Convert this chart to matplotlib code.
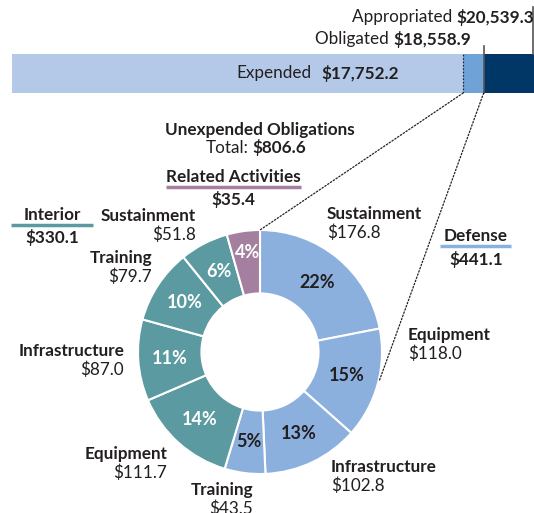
import matplotlib.pyplot as plt
from matplotlib.patches import ConnectionPatch

plt.rcParams['font.family'] = ['Lato', 'DejaVu Sans']

# totals (millions)
appropriated = 20539.3
obligated = 18558.9
expended = 17752.2
unexpended_total = 806.6

# unexpended obligations, clockwise from 12 o'clock
slice_names = ['Sustainment', 'Equipment', 'Infrastructure', 'Training',
               'Equipment', 'Infrastructure', 'Training', 'Sustainment',
               'Related Activities']
slice_values = [176.8, 118.0, 102.8, 43.5, 111.7, 87.0, 79.7, 51.8, 35.4]
slice_groups = ['Defense'] * 4 + ['Interior'] * 4 + ['Related']
group_totals = {'Defense': 441.1, 'Interior': 330.1, 'Related': 35.4}

colors = {'Defense': '#8cb0de', 'Interior': '#5b9aa0', 'Related': '#a57f9f'}
pct_colors = {'Defense': '#231f20', 'Interior': 'white', 'Related': 'white'}
dark = '#231f20'
fs = 12.3
W, H = 534, 513

fig = plt.figure(figsize=(W / 100, H / 100), dpi=100)

# overlay for text, pixel coords
ax_t = fig.add_axes([0, 0, 1, 1])
ax_t.set_xlim(0, W)
ax_t.set_ylim(H, 0)
ax_t.axis('off')
ax_t.set_zorder(10)

# bar
ax_b = fig.add_axes([12 / W, (H - 93) / H, (W - 12) / W, 39 / H])
ax_b.barh(0, expended, color='#b4c9e8', height=1)
ax_b.barh(0, obligated - expended, left=expended, color='#6fa2d6', height=1)
ax_b.barh(0, appropriated - obligated, left=obligated, color='#003767', height=1)
ax_b.set_xlim(0, appropriated)
ax_b.set_ylim(-0.5, 0.5)
ax_b.axis('off')
tr = ax_b.get_xaxis_transform()
ax_b.plot([appropriated - 40] * 2, [1, 1 + 47 / 39], color='#555555', lw=1.2,
          transform=tr, clip_on=False)
ax_b.plot([obligated] * 2, [0, 1 + 8 / 39], color='#555555', lw=1.2,
          transform=tr, clip_on=False)
ax_b.plot([expended] * 2, [0, 1], color=dark, lw=0.9,
          linestyle=(0, (1.2, 1.5)), transform=tr)


def two_part(x, y, normal, bold, gap=' '):
    b = ax_t.text(x, y, bold, ha='right', va='center', fontsize=fs,
                  fontweight='bold', color=dark)
    ax_t.annotate(normal + gap, xy=(0, 0.5), xycoords=b, ha='right',
                  va='center', fontsize=fs, color=dark)


two_part(534, 17, 'Appropriated', f'${appropriated:,.1f}')
two_part(471, 39, 'Obligated', f'${obligated:,.1f}')
ax_t.text(312, 73, 'Expended', ha='right', va='center', fontsize=fs, color=dark)
ax_t.text(321, 73, f'${expended:,.1f}', ha='left', va='center', fontsize=fs,
          fontweight='bold', color=dark)

# donut
R = 122
cx, cy = 260, 352
ax_p = fig.add_axes([(cx - R) / W, (H - cy - R) / H, 2 * R / W, 2 * R / H])
wedges, _, pcts = ax_p.pie(
    slice_values, colors=[colors[g] for g in slice_groups], startangle=90,
    counterclock=False, radius=1, autopct='%.0f%%', pctdistance=0.74,
    wedgeprops=dict(width=0.52, edgecolor='white', linewidth=1.5))
for t, g in zip(pcts, slice_groups):
    t.set_color(pct_colors[g])
    t.set_fontweight('bold')
    t.set_fontsize(13)
pcts[-1].set_y(pcts[-1].get_position()[1] + 0.08)
ax_p.set_xlim(-1, 1)
ax_p.set_ylim(-1, 1)
ax_p.axis('off')

# dotted connectors
for xb, pt in [(expended, (0, 1)), (obligated, (0.98, -0.23))]:
    con = ConnectionPatch(xyA=(xb, -0.5), coordsA=ax_b.transData,
                          xyB=pt, coordsB=ax_p.transData,
                          linestyle=(0, (1.2, 1.5)), color=dark, lw=0.9)
    fig.add_artist(con)

ax_t.text(cx, 130, 'Unexpended Obligations', ha='center', va='center',
          fontsize=fs, fontweight='bold', color=dark)
ax_t.text(249, 148, 'Total:', ha='right', va='center', fontsize=fs, color=dark)
ax_t.text(252, 148, f'${unexpended_total}', ha='left', va='center',
          fontsize=fs, fontweight='bold', color=dark)

# group headers
headers = [('Related Activities', 'Related', 233, 177, 166, 301),
           ('Interior', 'Interior', 52, 215, 11, 93),
           ('Defense', 'Defense', 476, 236, 440, 511)]
for name, g, x, y, x0, x1 in headers:
    ax_t.text(x, y, name, ha='center', va='center', fontsize=fs,
              fontweight='bold', color=dark)
    ax_t.plot([x0, x1], [y + 10, y + 10], color=colors[g], lw=2.5,
              solid_capstyle='butt')
    ax_t.text(x, y + 23, f'${group_totals[g]}', ha='center', va='center',
              fontsize=fs, fontweight='bold', color=dark)

# slice labels (x, y, ha)
label_pos = [(327, 214, 'left'), (408, 335, 'left'), (331, 467, 'left'),
             (253, 490, 'right'), (167, 454, 'right'), (124, 351, 'right'),
             (152, 258, 'right'), (196, 216, 'right')]
for (x, y, ha), name, v in zip(label_pos, slice_names, slice_values):
    ax_t.text(x, y, name, ha=ha, va='center', fontsize=fs,
              fontweight='bold', color=dark)
    ax_t.text(x, y + 19, f'${v:.1f}', ha=ha, va='center', fontsize=fs,
              color=dark)

fig.savefig('out.png', dpi=100)
